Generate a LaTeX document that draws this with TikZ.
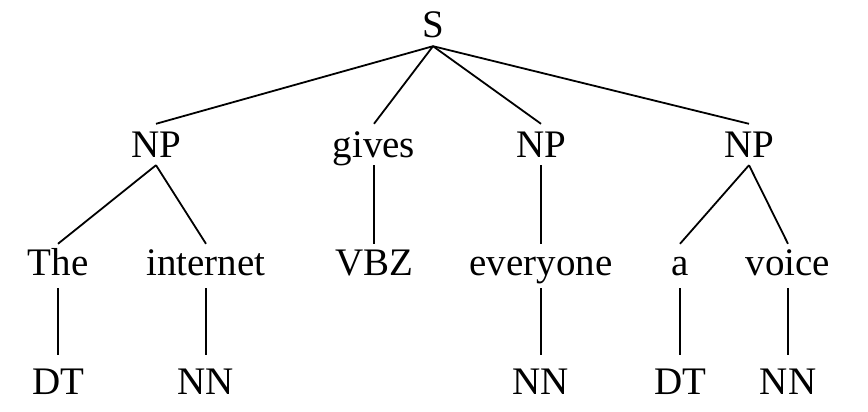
\documentclass[tikz,border=0pt]{standalone}
\usepackage{fontspec}
\setmainfont{Liberation Serif}
\usepackage{tikz}

\begin{document}
\begin{tikzpicture}[x=1pt, y=-1pt,
			lbl/.style={inner sep=0pt, anchor=base, font=\fontsize{39}{47}\selectfont},
			top/.style={lbl, text height=33pt, text depth=8pt},
			mid/.style={lbl, text height=31pt, text depth=13pt},
			leaf/.style={lbl, text height=39pt, text depth=0pt},
			edge/.style={line width=1.8pt}]
			
			\useasboundingbox (0,0) rectangle (868,412);
			
			\node[top] (s) at (433,38) {S};
			
			\node[top] (np1) at (156,157) {NP};
			\node[top] (gives) at (374,157) {gives};
			\node[top] (np2) at (541,157) {NP};
			\node[top] (np3) at (749,157) {NP};
			
			\node[mid] (the) at (58,275) {The};
			\node[mid] (internet) at (206,275) {internet};
			\node[mid] (vbz) at (374,275) {VBZ};
			\node[mid] (everyone) at (541,275) {everyone};
			\node[mid] (a) at (680,275) {a};
			\node[mid] (voice) at (788,275) {voice};
			
			\node[leaf] (dt1) at (58,394) {DT};
			\node[leaf] (nn1) at (206,394) {NN};
			\node[leaf] (nn2) at (541,394) {NN};
			\node[leaf] (dt2) at (680,394) {DT};
			\node[leaf] (nn3) at (788,394) {NN};
			
			\draw[edge] (s.south) -- (np1.north);
			\draw[edge] (s.south) -- (gives.north);
			\draw[edge] (s.south) -- (np2.north);
			\draw[edge] (s.south) -- (np3.north);
			
			\draw[edge] (np1.south) -- (the.north);
			\draw[edge] (np1.south) -- (internet.north);
			\draw[edge] (gives.south) -- (vbz.north);
			\draw[edge] (np2.south) -- (everyone.north);
			\draw[edge] (np3.south) -- (a.north);
			\draw[edge] (np3.south) -- (voice.north);
			
			\draw[edge] (the.south) -- (dt1.north);
			\draw[edge] (internet.south) -- (nn1.north);
			\draw[edge] (everyone.south) -- (nn2.north);
			\draw[edge] (a.south) -- (dt2.north);
			\draw[edge] (voice.south) -- (nn3.north);
			
		\end{tikzpicture}
\end{document}
